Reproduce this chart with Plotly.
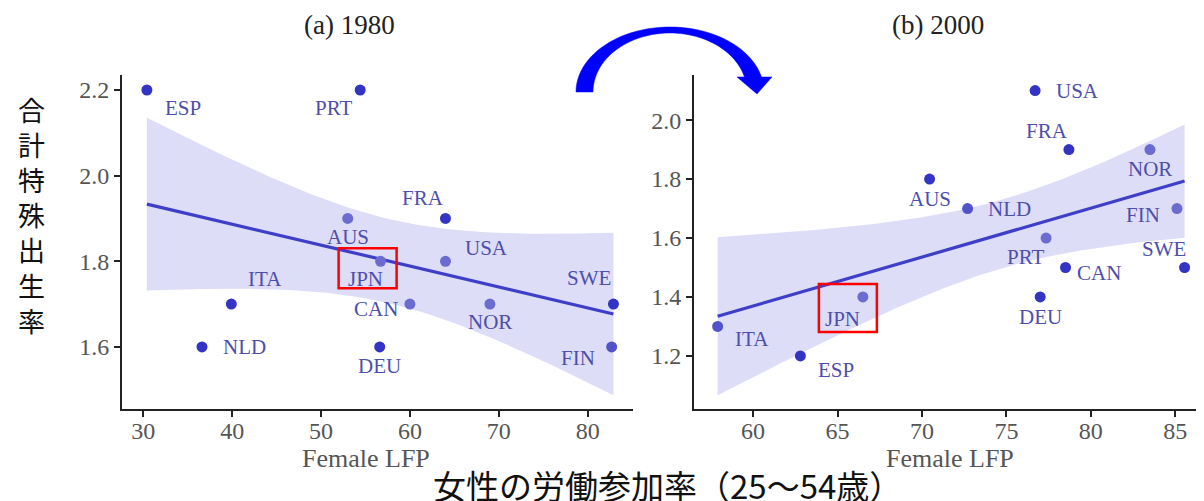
import numpy as np
import plotly.graph_objects as go

# ---------------- data ----------------
countries_1980 = ["ESP", "PRT", "AUS", "JPN", "FRA", "USA", "CAN", "NOR", "SWE", "FIN", "DEU", "ITA", "NLD"]
lfp_1980 = [30.4, 54.4, 53.0, 56.7, 64.0, 64.0, 60.0, 69.0, 82.9, 82.7, 56.6, 39.9, 36.6]
tfr_1980 = [2.2, 2.2, 1.9, 1.8, 1.9, 1.8, 1.7, 1.7, 1.7, 1.6, 1.6, 1.7, 1.6]

countries_2000 = ["USA", "FRA", "NOR", "AUS", "NLD", "FIN", "PRT", "SWE", "CAN", "DEU", "JPN", "ITA", "ESP"]
lfp_2000 = [76.7, 78.7, 83.5, 70.45, 72.7, 85.1, 77.35, 85.55, 78.5, 77.0, 66.5, 57.9, 62.8]
tfr_2000 = [2.1, 1.9, 1.9, 1.8, 1.7, 1.7, 1.6, 1.5, 1.5, 1.4, 1.4, 1.3, 1.2]

yticks_1980 = [1.6, 1.8, 2.0, 2.2]
xticks_1980 = [30, 40, 50, 60, 70, 80]
yticks_2000 = [1.2, 1.4, 1.6, 1.8, 2.0]
xticks_2000 = [60, 65, 70, 75, 80, 85]

titles = ["(a) 1980", "(b) 2000"]
x_title = "Female LFP"
y_title = "合計特殊出生率"
bottom_title = "女性の労働参加率（25～54歳）"

T_90_DF11 = 1.796  # Student t quantile (0.95, df=11) -> 90% band

# ---------------- style ----------------
# page body has an 8px margin; figure is sized to fit the 1204x501 window
OFF = 8
W, H = 1204 - OFF, 501 - OFF


def px(xp):
    return (xp - OFF) / W


def py(yp):
    return 1 - (yp - OFF) / H


DARK = "rgb(52,52,196)"
LIGHT = "rgb(108,108,208)"
MID = "rgb(82,82,202)"
LINE = "rgb(62,62,200)"
BAND = "rgba(120,120,225,0.25)"
LABEL = "rgb(78,78,172)"
SERIF = "Liberation Serif, Times New Roman, serif"
CJK = "Noto Sans CJK JP, sans-serif"

shade_1980 = {"ESP": DARK, "PRT": DARK, "AUS": LIGHT, "JPN": LIGHT, "FRA": DARK, "USA": LIGHT,
              "CAN": LIGHT, "NOR": LIGHT, "SWE": DARK, "FIN": MID, "DEU": DARK, "ITA": DARK, "NLD": DARK}
shade_2000 = {"USA": DARK, "FRA": DARK, "NOR": LIGHT, "AUS": DARK, "NLD": MID, "FIN": LIGHT,
              "PRT": LIGHT, "SWE": DARK, "CAN": DARK, "DEU": DARK, "JPN": LIGHT, "ITA": MID, "ESP": DARK}

# label offsets in pixels (dx right, dy up)
off_1980 = {"ESP": (36, -18), "PRT": (-27, -18), "AUS": (0, -19), "JPN": (-15, -18), "FRA": (-22, 20),
            "USA": (41, 13), "CAN": (-34, -5), "NOR": (0, -18), "SWE": (-24, 26), "FIN": (-34, -11),
            "DEU": (0, -19), "ITA": (34, 25), "NLD": (43, 0)}
off_2000 = {"USA": (42, 0), "FRA": (-22, 19), "NOR": (0, -19), "AUS": (0, -20), "NLD": (42, 0),
            "FIN": (-34, -6), "PRT": (-21, -19), "SWE": (-21, 19), "CAN": (33, -5), "DEU": (0, -20),
            "JPN": (-20, -22), "ITA": (34, -13), "ESP": (36, -14)}


def fit_band(x, y, t):
    x = np.asarray(x, float)
    y = np.asarray(y, float)
    n = len(x)
    xm, ym = x.mean(), y.mean()
    sxx = ((x - xm) ** 2).sum()
    b = ((x - xm) * (y - ym)).sum() / sxx
    a = ym - b * xm
    s = np.sqrt(((y - (a + b * x)) ** 2).sum() / (n - 2))
    gx = np.linspace(x.min(), x.max(), 100)
    gy = a + b * gx
    se = s * np.sqrt(1.0 / n + (gx - xm) ** 2 / sxx)
    return gx, gy, gy - t * se, gy + t * se


fig = go.Figure()
annotations = []

panels = [
    (countries_1980, lfp_1980, tfr_1980, shade_1980, off_1980, "x", "y"),
    (countries_2000, lfp_2000, tfr_2000, shade_2000, off_2000, "x2", "y2"),
]

for names, xs, ys, shade, off, xa, ya in panels:
    gx, gy, lo, hi = fit_band(xs, ys, T_90_DF11)
    fig.add_trace(go.Scatter(x=np.concatenate([gx, gx[::-1]]), y=np.concatenate([hi, lo[::-1]]),
                             fill="toself", fillcolor=BAND, line=dict(width=0), mode="lines",
                             hoverinfo="skip", showlegend=False, xaxis=xa, yaxis=ya))
    fig.add_trace(go.Scatter(x=gx, y=gy, mode="lines", line=dict(color=LINE, width=3.2),
                             showlegend=False, xaxis=xa, yaxis=ya))
    fig.add_trace(go.Scatter(x=xs, y=ys, mode="markers",
                             marker=dict(size=11, color=[shade[c] for c in names]),
                             showlegend=False, xaxis=xa, yaxis=ya))
    for c, xv, yv in zip(names, xs, ys):
        dx, dy = off[c]
        annotations.append(dict(x=xv, y=yv, xref=xa, yref=ya, text=c, showarrow=False,
                                xanchor="center", yanchor="middle",
                                xshift=dx, yshift=dy, font=dict(family=SERIF, size=21, color=LABEL)))

# domains (reference pixel positions)
xd1 = [px(122), px(633)]
xd2 = [px(694), px(1204)]
yd = [py(409), py(75)]

axis_common = dict(showline=True, linecolor="#222", linewidth=2, ticks="outside", ticklen=6,
                   tickwidth=1.5, tickcolor="#222", showgrid=False, zeroline=False,
                   tickfont=dict(family=SERIF, size=24, color="#555"))

fig.update_layout(
    width=W, height=H, margin=dict(l=0, r=0, t=0, b=0),
    plot_bgcolor="white", paper_bgcolor="white", showlegend=False,
    xaxis=dict(domain=xd1, range=[27.6, 85.1], tickvals=xticks_1980, anchor="y",
               ticklabelstandoff=-7, **axis_common),
    yaxis=dict(domain=yd, range=[1.455, 2.235], tickvals=yticks_1980, tickformat=".1f", anchor="x", **axis_common),
    xaxis2=dict(domain=xd2, range=[56.5, 86.7], tickvals=xticks_2000, anchor="y2",
                ticklabelstandoff=-7, **axis_common),
    yaxis2=dict(domain=yd, range=[1.02, 2.153], tickvals=yticks_2000, tickformat=".1f", anchor="x2", **axis_common),
)

# titles and axis labels
for tx, cx in zip(titles, [350, 938]):
    annotations.append(dict(x=px(cx), y=py(25), xref="paper", yref="paper", text=tx, showarrow=False,
                            xanchor="center", yanchor="middle",
                            font=dict(family=SERIF, size=27, color="#222")))
for cx in [366, 950]:
    annotations.append(dict(x=px(cx), y=py(458), xref="paper", yref="paper", text=x_title, showarrow=False,
                            xanchor="center", yanchor="middle",
                            font=dict(family=SERIF, size=26, color="#555")))
annotations.append(dict(x=px(667), y=py(485), xref="paper", yref="paper", text=bottom_title,
                        showarrow=False, xanchor="center", yanchor="middle",
                        font=dict(family=CJK, size=33, color="#111")))
annotations.append(dict(x=px(31), y=py(215), xref="paper", yref="paper", text="<br>".join(y_title),
                        showarrow=False, xanchor="center", yanchor="middle",
                        font=dict(family=CJK, size=27, color="#111")))
fig.update_layout(annotations=annotations)

# red boxes around JPN (pixel-sized, anchored on the JPN points)
shapes = []
for xa, ya, names, xs, ys, (x0, x1, y0, y1) in [
    ("x", "y", countries_1980, lfp_1980, tfr_1980, (-42, 16, -27, 13)),
    ("x2", "y2", countries_2000, lfp_2000, tfr_2000, (-44, 14, -35, 13)),
]:
    i = names.index("JPN")
    shapes.append(dict(type="rect", xref=xa, yref=ya, xsizemode="pixel", ysizemode="pixel",
                       xanchor=xs[i], yanchor=ys[i], x0=x0, x1=x1, y0=y0, y1=y1,
                       line=dict(color="red", width=2.5), fillcolor="rgba(0,0,0,0)"))

# curved blue arrow between the titles (decoration, reference pixels -> paper coordinates)
cx, base = 670.0, 92.0
rxo, ryo = 94.0, 65.0
rxi, ryi = 77.0, 59.0
t_end_o = np.arcsin(15 / ryo)
t_end_i = np.arcsin(15 / ryi)
to = np.linspace(np.pi, t_end_o, 60)
ti = np.linspace(t_end_i, np.pi, 60)
pts = [(cx + rxo * np.cos(t), base - ryo * np.sin(t)) for t in to]
pts += [(772, 77), (757, 94), (737, 77)]
pts += [(cx + rxi * np.cos(t), base - ryi * np.sin(t)) for t in ti]
path = "M " + " L ".join(f"{px(a):.5f},{py(b):.5f}" for a, b in pts) + " Z"
shapes.append(dict(type="path", xref="paper", yref="paper", path=path, fillcolor="#0000ff",
                   line=dict(color="#0000ff", width=0.5)))
fig.update_layout(shapes=shapes)

fig.write_html("out.html")
